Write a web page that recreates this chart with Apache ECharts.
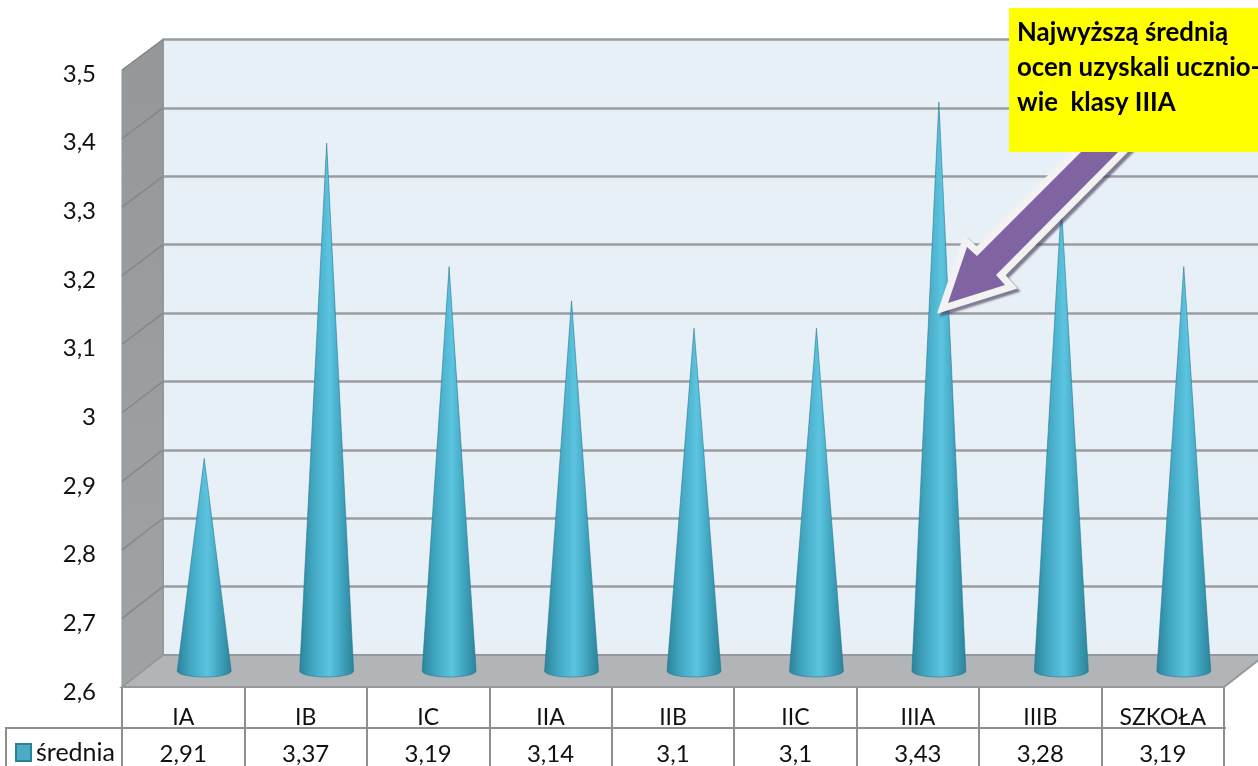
<!DOCTYPE html>
<html><head><meta charset="utf-8">
<style>html,body{margin:0;padding:0;background:#fff}#c{width:1258px;height:766px}</style>
<script src="https://cdn.jsdelivr.net/npm/echarts@6/dist/echarts.min.js"></script>
</head><body><div id="c"></div>
<script>
const categories = ['IA','IB','IC','IIA','IIB','IIC','IIIA','IIIB','SZKOŁA'];
const srednia = [2.91,3.37,3.19,3.14,3.1,3.1,3.43,3.28,3.19];
const seriesName = 'średnia';
const yMin = 2.6, yMax = 3.5, yStep = 0.1;
const noteText = 'Najwyższą średnią\nocen uzyskali ucznio-\nwie  klasy IIIA';

const F = 'Lato, "Noto Sans", sans-serif';
const comma = v => String(+(+v).toFixed(2)).replace('.', ',');
const front = {l:122, r:1224, t:70, b:687};
const back = {t:39.5, b:655};
const labelBand = {t:74, b:692};
const dx = 41;
const mid = {x:21, y:-16};
const H = 766, W = 1258;
const gridLine = '#9b9d9f';

const chart = echarts.init(document.getElementById('c'), null, {renderer:'canvas'});

function gridFor(ox, oy){
  return {left:front.l+ox, right:W-front.r-ox, top:front.t+oy, bottom:H-front.b-oy, containLabel:false, outerBoundsMode:'none'};
}
const hiddenX = i => ({gridIndex:i, type:'category', data:categories, show:false});

const wallLines = [];
const nTicks = Math.round((yMax-yMin)/yStep);
for(let i=1;i<=nTicks;i++){
  const y = front.b-(front.b-front.t)*i/nTicks;
  const y2 = back.b-(back.b-back.t)*i/nTicks;
  wallLines.push({type:'line', z:2, shape:{x1:front.l,y1:y,x2:front.l+dx,y2:y2}, style:{stroke:'#84888a',lineWidth:1.5}});
}
const arrowPts = [[948,303],[967,247],[977,256],[1085,148],[1122,148],[996,275],[1005,285]];

chart.setOption({
  animation:false,
  backgroundColor:'#fff',
  textStyle:{fontFamily:F},
  legend:{
    data:[seriesName], left:15, top:740, icon:'rect', itemWidth:15, itemHeight:17, itemGap:4,
    textStyle:{fontFamily:F, fontSize:25, color:'#111'}, padding:0, selectedMode:false
  },
  grid:[
    gridFor(0,0),
    {left:front.l+dx, right:W-front.r-dx, top:back.t, bottom:H-back.b, containLabel:false, outerBoundsMode:'none', show:true, backgroundColor:'#e8f0f7', borderWidth:0},
    gridFor(mid.x,mid.y),
    {left:front.l, right:W-front.r, top:labelBand.t, bottom:H-labelBand.b, containLabel:false, outerBoundsMode:'none'}
  ],
  xAxis:[
    {gridIndex:0, type:'category', data:categories,
     axisLine:{show:false},
     axisTick:{show:true, length:79, lineStyle:{color:'#8e8e8e', width:2}},
     axisLabel:{interval:0, margin:12, formatter:(v,i)=>`{a|${v}}\n{b|${comma(srednia[i])}}`,
       rich:{a:{fontFamily:F,fontSize:23,color:'#111',lineHeight:37,height:37,verticalAlign:'middle'},
             b:{fontFamily:F,fontSize:24,color:'#111',lineHeight:37,height:37,verticalAlign:'middle'}}}},
    hiddenX(1), hiddenX(2), hiddenX(3)
  ],
  yAxis:[
    {gridIndex:0, type:'value', min:yMin, max:yMax, interval:yStep, show:false, splitLine:{show:false}},
    {gridIndex:1, type:'value', min:yMin, max:yMax, interval:yStep, axisLabel:{show:false}, axisTick:{show:false},
     axisLine:{show:true, lineStyle:{color:gridLine,width:2}},
     splitLine:{show:true, lineStyle:{color:gridLine,width:2.5}}},
    {gridIndex:2, type:'value', min:yMin, max:yMax, interval:yStep, show:false, splitLine:{show:false}},
    {gridIndex:3, type:'value', min:yMin, max:yMax, interval:yStep, splitLine:{show:false},
     axisLine:{show:false}, axisTick:{show:false},
     axisLabel:{margin:26, fontFamily:F, fontSize:24, color:'#111', formatter:v=>comma(v)}}
  ],
  series:[{
    name:seriesName, type:'custom', xAxisIndex:2, yAxisIndex:2, clip:false, z:5,
    itemStyle:{color:'#4bacc6', borderColor:'#2c7f96', borderWidth:1},
    data:srednia,
    encode:{x:0,y:1},
    renderItem:(p,api)=>{
      const i = api.value(0), v = api.value(1);
      const top = api.coord([i,v]), base = api.coord([i,yMin]);
      const rx = 27, ry = 6, pts = [[top[0],top[1]]];
      for(let k=0;k<=24;k++){
        const a = Math.PI*k/24;
        pts.push([base[0]-rx*Math.cos(a), base[1]+ry*Math.sin(a)]);
      }
      return {type:'polygon', shape:{points:pts}, style:{
        stroke:'rgba(35,115,140,.55)', lineWidth:1,
        fill:new echarts.graphic.LinearGradient(0,0,1,0,[
          {offset:0,color:'#2a8299'},{offset:.22,color:'#3fa3bd'},{offset:.55,color:'#5cc4e0'},
          {offset:.78,color:'#3fa3bd'},{offset:1,color:'#2a8299'}])
      }};
    }
  }],
  graphic:{elements:[
    {type:'polygon', z:1, shape:{points:[[front.l,front.t],[front.l+dx,back.t],[front.l+dx,back.b],[front.l,front.b]]},
     style:{fill:new echarts.graphic.LinearGradient(0,0,0,1,[{offset:0,color:'#94989a'},{offset:1,color:'#a0a3a5'}]), stroke:'#8f9394', lineWidth:1}},
    {type:'polygon', z:1, shape:{points:[[front.l,front.b],[front.r,front.b],[front.r+dx,back.b],[front.l+dx,back.b]]},
     style:{fill:'#b2b5b8', stroke:'#96989a', lineWidth:2}},
    ...wallLines,
    {type:'line', z:3, shape:{x1:5,y1:728,x2:front.r+2,y2:728}, style:{stroke:'#8e8e8e',lineWidth:2}},
    {type:'line', z:3, shape:{x1:6,y1:728,x2:6,y2:766}, style:{stroke:'#8e8e8e',lineWidth:2}},
    {type:'polygon', z:19, shape:{points:arrowPts},
     style:{fill:'#f2f2f2', stroke:'#f2f2f2', lineWidth:14, lineJoin:'miter', miterLimit:10, shadowColor:'rgba(70,60,90,.65)', shadowBlur:2, shadowOffsetX:3, shadowOffsetY:3}},
    {type:'polygon', z:20, shape:{points:arrowPts}, style:{fill:'#8064a2'}},
    {type:'rect', z:21, shape:{x:1009,y:8,width:249,height:144}, style:{fill:'#ffff00'}},
    {type:'text', z:22, x:1017, y:15, style:{text:noteText, fill:'#000', fontFamily:F, fontWeight:'bold', fontSize:25.8, lineHeight:35}}
  ]}
});
</script></body></html>
